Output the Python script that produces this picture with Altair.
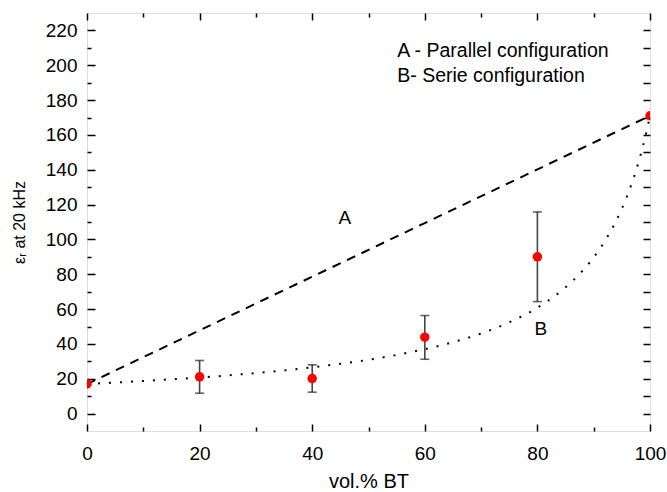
import altair as alt
import pandas as pd

# measured points
vol_pct = [0, 20, 40, 60, 80, 100]
eps_r = [17.0, 21.1, 20.1, 43.9, 90.0, 171.0]

# error bars
err_x = [20, 40, 60, 80]
err_low = [11.7, 12.3, 31.2, 64.3]
err_high = [30.5, 28.0, 56.3, 115.8]

# model A (parallel)
par_x = [0, 100]
par_y = [17.0, 171.0]

# model B (serie)
ser_x = [0, 5, 10, 15, 20, 25, 30, 35, 40, 45, 50, 55, 60, 65, 70, 75, 80, 85, 87.5, 90, 92.5, 95, 96, 97, 98, 99, 100]
ser_y = [17.0, 17.8, 18.7, 19.7, 20.7, 21.9, 23.3, 24.8, 26.6, 28.6, 30.9, 33.7, 37.0, 41.0, 46.0, 52.4, 60.8, 72.5, 80.2, 89.7, 101.8, 117.7, 125.5, 134.4, 144.8, 156.8, 171.0]

# annotations
note_text = ["A - Parallel configuration", "B- Serie configuration"]
note_x = [55.1, 55.1]
note_y = [205.0, 190.6]
curve_label = ["A", "B"]
curve_label_x = [45.8, 80.6]
curve_label_y = [109.0, 45.4]

x_major = [0, 20, 40, 60, 80, 100]
x_minor = [10, 30, 50, 70, 90]
y_major = list(range(0, 221, 20))
y_minor = list(range(10, 211, 20))
y_right = list(range(0, 221, 10))

FONT = "Liberation Sans"

xs = alt.Scale(domain=[0, 100], nice=False, zero=False)
ys = alt.Scale(domain=[-10, 230], nice=False, zero=False)


def axis(orient, values, size, labels=False, **kw):
    return alt.Axis(orient=orient, values=values, tickSize=size, offset=-size,
                    domain=False, grid=False, labels=labels, tickColor="black",
                    tickWidth=1.5, labelFlush=False, titleFontWeight="normal",
                    labelFont=FONT, titleFont=FONT, labelColor="black",
                    titleColor="black", **kw)


ax_bottom_major = axis("bottom", x_major, 7, labels=True, title="vol.% BT",
                       labelPadding=13, labelFontSize=19, titleFontSize=20,
                       titlePadding=8, format="d")
ax_bottom_minor = axis("bottom", x_minor, 4, title=None)
ax_top_major = axis("top", x_major, 7, title=None)
ax_top_minor = axis("top", x_minor, 4, title=None)
ax_left_major = axis("left", y_major, 8, labels=True, title="εᵣ at 20 kHz",
                     labelPadding=10, labelFontSize=19, titleFontSize=16,
                     titlePadding=18, format="d")
ax_left_minor = axis("left", y_minor, 4, title=None)
ax_right = axis("right", y_right, 7, title=None)

df_par = pd.DataFrame({"x": par_x, "y": par_y})
df_ser = pd.DataFrame({"x": ser_x, "y": ser_y})
df_pts = pd.DataFrame({"x": vol_pct, "y": eps_r})
df_err = pd.DataFrame({"x": err_x, "lo": err_low, "hi": err_high})
df_note = pd.DataFrame({"t": note_text, "x": note_x, "y": note_y})
df_lab = pd.DataFrame({"t": curve_label, "x": curve_label_x, "y": curve_label_y})

line_a = alt.Chart(df_par).mark_line(color="black", strokeDash=[9, 7], strokeWidth=2).encode(
    x=alt.X("x:Q", scale=xs, axis=ax_bottom_major),
    y=alt.Y("y:Q", scale=ys, axis=ax_left_major),
)
line_b = alt.Chart(df_ser).mark_line(color="black", strokeDash=[2, 9], strokeWidth=2,
                                     interpolate="monotone").encode(
    x=alt.X("x:Q", scale=xs, axis=ax_bottom_minor),
    y=alt.Y("y:Q", scale=ys, axis=ax_left_minor),
)
err_rule = alt.Chart(df_err).mark_rule(color="#444444", strokeWidth=1.6).encode(
    x=alt.X("x:Q", scale=xs, axis=ax_top_minor),
    y=alt.Y("lo:Q", scale=ys, axis=ax_right),
    y2="hi:Q",
)
cap_lo = alt.Chart(df_err).mark_tick(color="#222222", orient="horizontal", size=9, thickness=1.6).encode(
    x=alt.X("x:Q", scale=xs, axis=None),
    y=alt.Y("lo:Q", scale=ys, axis=None),
)
cap_hi = alt.Chart(df_err).mark_tick(color="#222222", orient="horizontal", size=9, thickness=1.6).encode(
    x=alt.X("x:Q", scale=xs, axis=None),
    y=alt.Y("hi:Q", scale=ys, axis=None),
)
points = alt.Chart(df_pts).mark_circle(color="#ff0000", size=90, opacity=1, clip=True).encode(
    x=alt.X("x:Q", scale=xs, axis=ax_top_major),
    y=alt.Y("y:Q", scale=ys, axis=None),
)
notes = alt.Chart(df_note).mark_text(align="left", baseline="alphabetic", fontSize=19.5,
                                     font=FONT, color="black").encode(
    x=alt.X("x:Q", scale=xs, axis=None),
    y=alt.Y("y:Q", scale=ys, axis=None),
    text="t:N",
)
labels = alt.Chart(df_lab).mark_text(align="center", baseline="alphabetic", fontSize=19,
                                     font=FONT, color="black").encode(
    x=alt.X("x:Q", scale=xs, axis=None),
    y=alt.Y("y:Q", scale=ys, axis=None),
    text="t:N",
)

chart = alt.layer(line_a, line_b, err_rule, cap_lo, cap_hi, points, notes, labels).resolve_axis(
    x="independent", y="independent"
).properties(
    width=563, height=418,
    autosize=alt.AutoSizeParams(type="none"),
    padding={"left": 87, "right": 17, "top": 13, "bottom": 61},
).configure_view(
    stroke="black", strokeWidth=2
).configure(background="white")

chart.save("out.html", embed_options={"renderer": "svg", "actions": False})
